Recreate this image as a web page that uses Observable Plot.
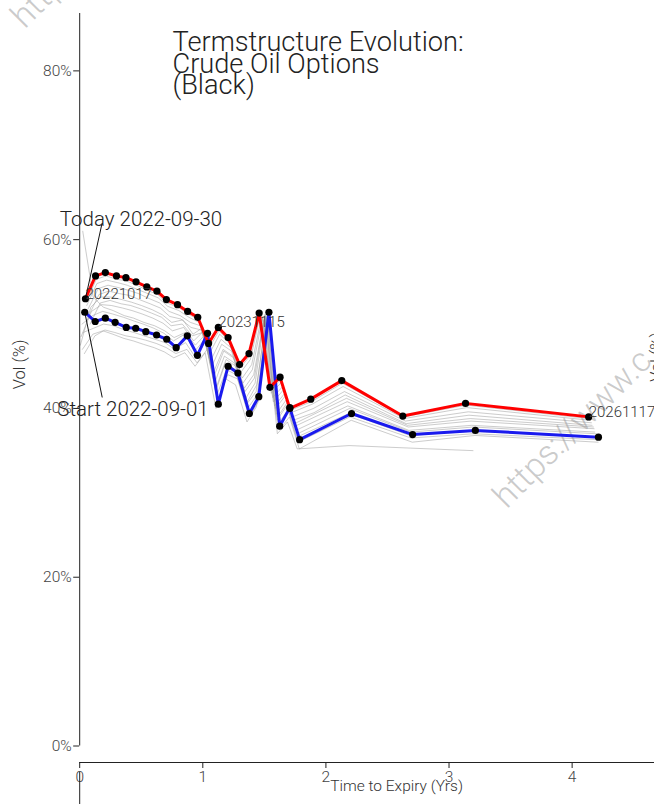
<!DOCTYPE html>
<html><head><meta charset="utf-8">
<script src="https://cdn.jsdelivr.net/npm/d3@7"></script>
<script src="https://cdn.jsdelivr.net/npm/@observablehq/plot@0.6"></script>
<style>
html,body{margin:0;padding:0;background:#fff;}
#chart{width:654px;height:804px;overflow:hidden;}
#chart svg text{font-weight:300;}
</style></head><body><div id="chart"></div>
<script>
// Contract expiries (futures option contracts)
const contracts = ["Oct22","Nov22","Dec22","Jan23","Feb23","Mar23","Apr23","May23","Jun23","Jul23","Aug23","Sep23","Oct23","Nov23","Dec23","Jan24","Feb24","Mar24","Apr24","May24","Jun24","Jul24","Sep24","Dec24","Jun25","Dec25","Dec26"];
const expiries = ["2022-09-16","2022-10-17","2022-11-16","2022-12-15","2023-01-17","2023-02-14","2023-03-16","2023-04-17","2023-05-17","2023-06-14","2023-07-17","2023-08-16","2023-09-15","2023-10-17","2023-11-15","2023-12-14","2024-01-17","2024-02-14","2024-03-15","2024-04-16","2024-05-16","2024-06-14","2024-08-15","2024-11-15","2025-05-15","2025-11-17","2026-11-17"];

const todayDate = "2022-09-30";
const startDate = "2022-09-01";
// implied vols (%) per contract
const todayVols = [null,53.0,55.7,56.1,55.7,55.5,55.0,54.4,53.9,52.9,52.3,51.5,50.8,47.7,49.6,48.4,45.2,46.5,51.3,42.5,43.7,40.0,41.1,43.3,39.1,40.6,39.0];
const startVols = [51.4,50.3,50.7,50.2,49.6,49.5,49.1,48.7,48.2,47.2,48.6,46.3,48.9,40.5,45.0,44.2,39.4,41.4,51.4,37.9,40.1,36.3,null,39.4,36.9,37.4,36.6];

// intermediate days (grey curves)
const g0902 = [46.5,48.6,49.3,49.0,48.6,48.4,48.1,47.7,47.2,46.5,47.0,45.4,47.0,41.0,44.0,43.5,39.0,40.8,50.0,37.5,39.0,35.2,null,38.6,36.0,36.8,36.0];
const g0906 = [49.0,49.5,50.0,49.8,49.3,49.0,48.6,48.2,47.8,47.0,47.8,46.0,48.0,41.5,44.6,44.0,40.0,41.6,50.6,38.2,39.8,36.0,null,39.0,36.5,37.0,36.3];
const g0907 = [61.0,53.2,52.0,51.6,51.0,50.7,50.2,49.8,49.2,48.4,49.0,47.5,48.8,42.5,45.8,45.0,40.8,42.8,51.0,39.0,40.8,37.0,null,40.0,37.2,37.8,37.0];
const g0908 = [47.0,48.8,49.2,48.8,48.3,48.0,47.6,47.2,46.7,46.0,46.6,45.0,46.6,40.0,43.5,42.8,38.4,40.2,49.5,37.0,38.4,35.2,null,35.6,35.3,35.0,null];
const g0909 = [50.0,51.0,51.5,51.2,50.8,50.4,50.0,49.5,48.9,48.0,48.8,46.8,48.2,42.0,45.4,44.6,40.5,42.0,50.8,38.6,40.4,36.6,null,39.4,36.8,37.3,36.6];
const g0912 = [48.5,51.5,52.3,52.2,51.9,51.6,51.2,50.7,50.1,49.2,49.6,48.0,49.2,43.0,46.2,45.4,41.2,43.0,51.2,39.3,41.0,37.4,null,40.3,37.4,38.0,37.2];
const g0914 = [47.5,52.0,53.2,53.2,52.9,52.6,52.2,51.7,51.1,50.2,50.5,48.8,49.6,43.8,46.8,46.0,42.0,43.6,51.0,40.0,41.5,37.9,null,40.8,37.8,38.5,37.6];
const g0916 = [null,50.0,52.5,52.8,52.4,52.2,51.8,51.3,50.8,49.8,50.0,48.6,49.0,44.2,47.0,46.2,42.4,44.0,50.5,40.3,41.8,38.2,null,41.2,38.0,38.8,37.8];
const g0920 = [null,51.0,53.5,53.9,53.6,53.4,52.9,52.4,51.9,50.9,50.6,49.6,49.3,45.0,47.6,46.8,43.0,44.6,50.8,40.8,42.2,38.6,39.5,41.6,38.2,39.2,38.0];
const g0922 = [null,51.8,54.2,54.6,54.3,54.0,53.6,53.0,52.5,51.5,51.0,50.2,49.8,45.8,48.2,47.2,43.6,45.2,51.0,41.3,42.6,39.0,40.0,42.0,38.5,39.6,38.3];
const g0926 = [null,52.2,54.8,55.2,54.9,54.6,54.1,53.6,53.1,52.1,51.6,50.8,50.2,46.6,48.8,47.7,44.3,45.8,51.2,41.8,43.1,39.5,40.5,42.6,38.8,40.1,38.6];
const g0928 = [null,52.6,55.3,55.7,55.3,55.1,54.6,54.0,53.5,52.5,52.0,51.2,50.5,47.2,49.2,48.0,44.8,46.2,51.3,42.2,43.4,39.8,40.8,43.0,39.0,40.4,38.8];
const greyDates = ["2022-09-02","2022-09-06","2022-09-07","2022-09-08","2022-09-09","2022-09-12","2022-09-14","2022-09-16","2022-09-20","2022-09-22","2022-09-26","2022-09-28"];
const greyVols = [g0902,g0906,g0907,g0908,g0909,g0912,g0914,g0916,g0920,g0922,g0926,g0928];

const labelExpiries = ["2022-10-17","2023-11-15","2026-11-17"];
const xTicks = [0,1,2,3,4];
const yTicks = [0,20,40,60,80];
const titleText = "Termstructure Evolution:\nCrude Oil Options\n(Black)";
const xLabel = "Time to Expiry (Yrs)";
const yLabel = "Vol (%)";
const watermark = "https://www.c";
const annLabels = ["Today 2022-09-30","Start 2022-09-01"];
const annLineEndT = [0.181, 0.183];
const annLineEndV = [61.9, 41.3];
const annTextT = [0.498, 0.433];
const annTextV = [62.4, 39.9];

// ---------- build rows ----------
const yrs = (exp, asof) => (Date.parse(exp) - Date.parse(asof)) / 864e5 / 365;
function curve(asof, vols) {
  const rows = [];
  vols.forEach((v, i) => {
    if (v == null) return;
    const t = yrs(expiries[i], asof);
    if (t <= 0) return;
    rows.push({date: asof, expiry: expiries[i], t, vol: v});
  });
  return rows;
}
const todayRows = curve(todayDate, todayVols);
const startRows = curve(startDate, startVols);
const greyRows = greyDates.flatMap((d, k) => curve(d, greyVols[k]));
const labelRows = todayRows.filter(r => labelExpiries.includes(r.expiry)).map(r => ({...r, text: r.expiry.replace(/-/g, "")}));
const annRows = annLabels.map((lab, i) => {
  const src = i === 0 ? todayRows[0] : startRows[0];
  return {label: lab, x1: src.t, y1: src.vol, x2: annLineEndT[i], y2: annLineEndV[i], tx: annTextT[i], ty: annTextV[i]};
});

const chart = Plot.plot({
  width: 654, height: 804,
  marginLeft: 79.2, marginRight: 0, marginTop: 13, marginBottom: 42,
  x: {domain: [0, 4.669]},
  y: {domain: [0, 86.8], range: [745.5, 13]},
  style: {fontFamily: "Roboto, sans-serif", background: "#fff", color: "#333"},
  marks: [
    // watermarks
    Plot.text([watermark], {frameAnchor: "top-left", dx: 427, dy: 496, rotate: -45, textAnchor: "start", lineAnchor: "bottom", fontSize: 34, fill: "#bdbdbd", fillOpacity: 0.8}),
    Plot.text([watermark], {frameAnchor: "top-left", dx: -55, dy: 16, rotate: -45, textAnchor: "start", lineAnchor: "bottom", fontSize: 34, fill: "#bdbdbd", fillOpacity: 0.8}),
    // grey history
    Plot.line(greyRows, {x: "t", y: "vol", z: "date", stroke: "#9a9a9a", strokeOpacity: 0.5, strokeWidth: 1}),
    Plot.line(startRows, {x: "t", y: "vol", stroke: "#1a1aee", strokeWidth: 3}),
    Plot.line(todayRows, {x: "t", y: "vol", stroke: "#ff0000", strokeWidth: 3}),
    Plot.link(annRows, {x1: "x1", y1: "y1", x2: "x2", y2: "y2", stroke: "#111", strokeWidth: 1}),
    Plot.dot(startRows.concat(todayRows), {x: "t", y: "vol", r: 3.6, fill: "#000"}),
    Plot.text(labelRows, {x: "t", y: "vol", text: "text", textAnchor: "start", lineAnchor: "bottom", fontSize: 15, fill: "#333"}),
    Plot.text(annRows, {x: "tx", y: "ty", text: "label", textAnchor: "middle", lineAnchor: "middle", fontSize: 20.5, fill: "#222"}),
    // axes
    Plot.frame({anchor: "bottom", stroke: "#222"}),
    Plot.ruleX([0], {y1: 0, y2: 86.8, stroke: "#222"}),
    Plot.axisX({ticks: xTicks, tickFormat: d => String(d), tickSize: 6, tickPadding: 2, fontSize: 15.5, label: null, stroke: "#222", fill: "#444"}),
    Plot.axisY({ticks: yTicks, tickFormat: d => d + "%", tickSize: 6, tickPadding: 2, fontSize: 15.5, label: null, stroke: "#222", fill: "#444"}),
    Plot.text([xLabel], {x: 2.574, frameAnchor: "bottom", dy: 28, fontSize: 15.5, fill: "#333"}),
    Plot.text([yLabel], {y: 45.2, frameAnchor: "left", dx: -60, rotate: -90, textAnchor: "middle", fontSize: 16.5, fill: "#333"}),
    Plot.text([yLabel], {y: 46.1, frameAnchor: "right", dx: 2, rotate: -90, textAnchor: "middle", fontSize: 16.5, fill: "#333"}),
    Plot.ruleX([0], {y1: -3.1, y2: -7.2, stroke: "#222"}),
    // title
    Plot.text([titleText], {frameAnchor: "top-left", dx: 92.8, dy: 22, textAnchor: "start", lineAnchor: "top", lineHeight: 0.8, fontSize: 27.2, fill: "#222"})
  ]
});
document.getElementById("chart").appendChild(chart);
</script></body></html>
